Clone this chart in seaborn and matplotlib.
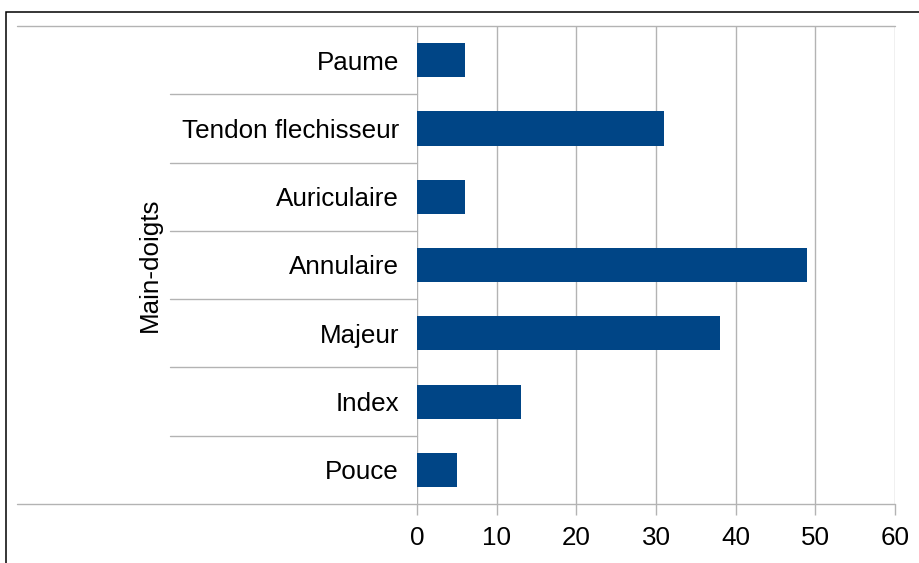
import matplotlib
matplotlib.use("Agg")
import matplotlib.pyplot as plt
import matplotlib.transforms as mtrans
from matplotlib.patches import Rectangle
import seaborn as sns
import pandas as pd

categories = ["Paume", "Tendon flechisseur", "Auriculaire", "Annulaire", "Majeur", "Index", "Pouce"]
values = [6, 31, 6, 49, 38, 13, 5]
x_ticks = [0, 10, 20, 30, 40, 50, 60]
y_label = "Main-doigts"

sns.set_theme(style="white")
plt.rcParams["font.family"] = ["Liberation Sans", "DejaVu Sans"]

W, H = 919, 563
FS = 18.7
fig = plt.figure(figsize=(W / 100, H / 100), dpi=100)
ax = fig.add_axes([417 / W, 1 - 504 / H, 478 / W, 478 / H])

df = pd.DataFrame({"cat": categories, "val": values})
sns.barplot(data=df, x="val", y="cat", orient="h", color="#004586",
            saturation=1, width=0.5, ax=ax, zorder=3, linewidth=0)

grid_c = "#b3b3b3"
ax.set_xlim(x_ticks[0], x_ticks[-1])
ax.set_ylim(len(categories) - 0.5, -0.5)
ax.set_xticks(x_ticks)
ax.set_xticklabels([str(t) for t in x_ticks])
for s in ax.spines.values():
    s.set_visible(False)
ax.grid(axis="x", color=grid_c, linewidth=1, zorder=0)
ax.grid(axis="y", visible=False)
ax.tick_params(axis="x", length=8, width=1, color=grid_c, direction="out",
               pad=8, labelsize=FS, labelcolor="black", bottom=True)
ax.tick_params(axis="y", length=0, pad=13, labelsize=FS, labelcolor="black")
ax.set_xlabel("")
ax.set_ylabel(y_label, fontsize=FS, color="black")
ax.yaxis.set_label_coords((162 - 417) / 478, 0.5)

trans = mtrans.blended_transform_factory(ax.transAxes, ax.transData)
n = len(categories)
for k in range(n + 1):
    yb = k - 0.5
    if k in (0, n):
        x0, x1 = (17 - 417) / 478, 1.0
    else:
        x0, x1 = (170 - 417) / 478, 0.0
    ax.plot([x0, x1], [yb, yb], transform=trans, color=grid_c, lw=1,
            clip_on=False, zorder=1)

fig.patches.append(Rectangle((6 / W, -0.2), 1.2, (1 - 12 / H) + 0.2,
                             transform=fig.transFigure, fill=False,
                             edgecolor="black", linewidth=1.1))

fig.savefig("out.png", dpi=100)
